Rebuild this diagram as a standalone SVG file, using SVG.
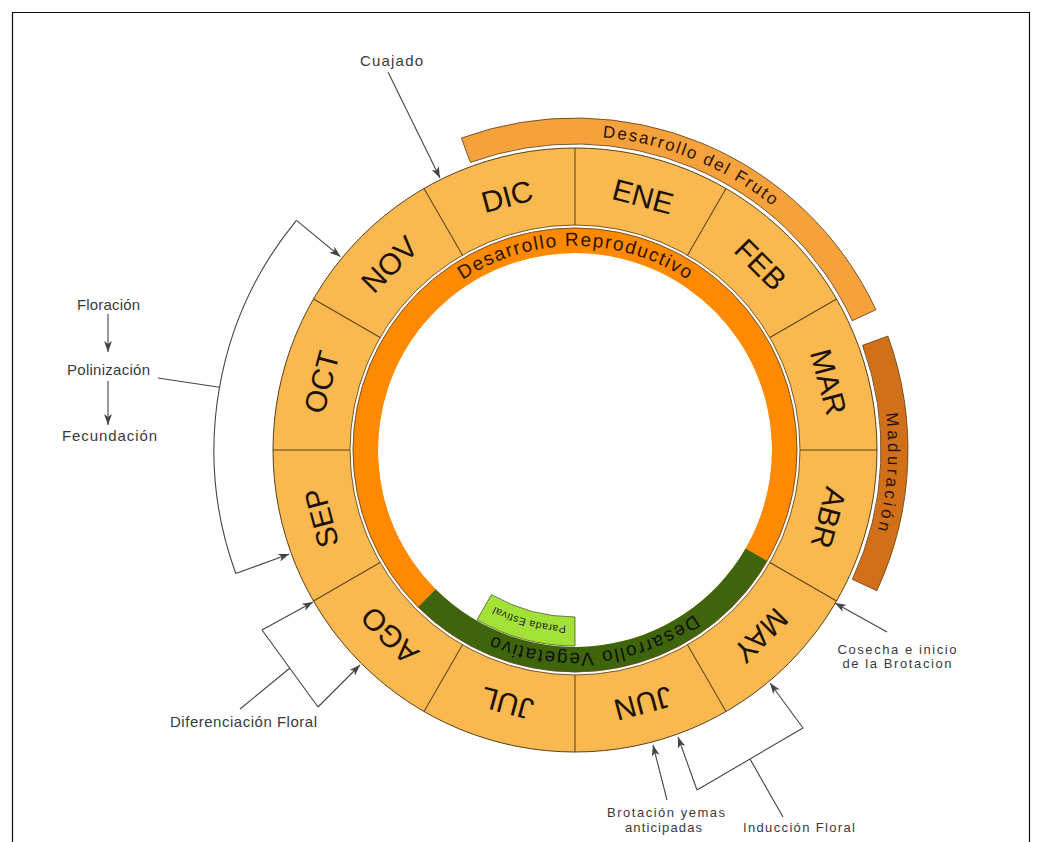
<svg xmlns="http://www.w3.org/2000/svg" width="1041" height="842" viewBox="0 0 1041 842">
<style>
.month{font-family:"Liberation Sans",Arial,sans-serif;font-size:30px;fill:#1e1206;text-anchor:middle}
.band{font-family:"Liberation Sans",Arial,sans-serif;fill:#2a1400;text-anchor:middle}
.lbl{font-family:"Liberation Sans",Arial,sans-serif;font-size:15px;fill:#3a3a3a;text-anchor:middle}
.sm{font-size:13px}
.sep{stroke:#5a3f1a;stroke-width:1}
.edge{fill:none;stroke:#6b4a1f;stroke-width:0.9}
.conn{fill:none;stroke:#444;stroke-width:1.1}
</style>
<defs>
<marker id="arr" markerUnits="userSpaceOnUse" markerWidth="11" markerHeight="8" refX="11" refY="4" orient="auto">
<path d="M0,0 L11,4 L0,8 L3,4 Z" fill="#444"/>
</marker>
<path id="pRepro" d="M371,450 A204,204 0 0 1 779,450"/>
<path id="pVeget" d="M777.88,428.68 A204,204 0 0 1 372.12,471.32"/>
<path id="pFruto" d="M283.87,332.37 A313,313 0 0 1 866.13,567.63"/>
<path id="pMadur" d="M596.9,137.76 A313,313 0 0 1 553.1,762.24"/>
<path id="pParada" d="M745,495.55 A175,175 0 0 1 405,404.45"/>
</defs>

<path d="M12.5,842 V12.5 H1029.5 V842" fill="none" stroke="#111" stroke-width="1.2"/>

<g id="ring">
<circle cx="575" cy="450" r="302" fill="#FAB950" stroke="#5a3f1a" stroke-width="1"/>
<circle cx="575" cy="450" r="197" fill="#fff"/>
</g>

<g id="desarrollo-reproductivo">
<path d="M418.02,606.98 A222,222 0 1 1 767.26,561 L745.61,548.5 A197,197 0 1 0 435.70,589.30 Z" fill="#FF8A00"/>
<text class="band" font-size="19"><textPath href="#pRepro" startOffset="50%" textLength="238" lengthAdjust="spacing">Desarrollo Reproductivo</textPath></text>
</g>

<g id="desarrollo-vegetativo">
<path d="M767.26,561 A222,222 0 0 1 418.02,606.98 L435.70,589.30 A197,197 0 0 0 745.61,548.5 Z" fill="#3E650C"/>
<text class="band" font-size="19" style="fill:#111"><textPath href="#pVeget" startOffset="50%" textLength="212" lengthAdjust="spacing">Desarrollo Vegetativo</textPath></text>
</g>

<g id="parada-estival">
<path d="M575,646 A196,196 0 0 1 477,619.74 L491.5,594.63 A167,167 0 0 0 575,617 Z" fill="#A2E236" stroke="#4a5a20" stroke-width="0.8"/>
<text class="band" font-size="10.5" style="fill:#222"><textPath href="#pParada" startOffset="50%" textLength="74" lengthAdjust="spacing">Parada Estival</textPath></text>
</g>

<g id="ring-lines">
<circle cx="575" cy="450" r="223.5" fill="none" stroke="#fff" stroke-width="2.6"/>
<circle cx="575" cy="450" r="222" class="edge"/>
<circle cx="575" cy="450" r="225" class="edge"/>
<line class="sep" x1="575" y1="225" x2="575" y2="148"/>
<line class="sep" x1="575" y1="225" x2="575" y2="148" transform="rotate(30 575 450)"/>
<line class="sep" x1="575" y1="225" x2="575" y2="148" transform="rotate(60 575 450)"/>
<line class="sep" x1="575" y1="225" x2="575" y2="148" transform="rotate(90 575 450)"/>
<line class="sep" x1="575" y1="225" x2="575" y2="148" transform="rotate(120 575 450)"/>
<line class="sep" x1="575" y1="225" x2="575" y2="148" transform="rotate(150 575 450)"/>
<line class="sep" x1="575" y1="225" x2="575" y2="148" transform="rotate(180 575 450)"/>
<line class="sep" x1="575" y1="225" x2="575" y2="148" transform="rotate(210 575 450)"/>
<line class="sep" x1="575" y1="225" x2="575" y2="148" transform="rotate(240 575 450)"/>
<line class="sep" x1="575" y1="225" x2="575" y2="148" transform="rotate(270 575 450)"/>
<line class="sep" x1="575" y1="225" x2="575" y2="148" transform="rotate(300 575 450)"/>
<line class="sep" x1="575" y1="225" x2="575" y2="148" transform="rotate(330 575 450)"/>
</g>

<g id="months">
<text class="month" x="575" y="198" transform="rotate(345 575 450)">DIC</text>
<text class="month" x="575" y="198" transform="rotate(15 575 450)">ENE</text>
<text class="month" x="575" y="198" transform="rotate(45 575 450)">FEB</text>
<text class="month" x="575" y="198" transform="rotate(75 575 450)">MAR</text>
<text class="month" x="575" y="198" transform="rotate(105 575 450)">ABR</text>
<text class="month" x="575" y="198" transform="rotate(135 575 450)">MAY</text>
<text class="month" x="575" y="198" transform="rotate(165 575 450)">JUN</text>
<text class="month" x="575" y="198" transform="rotate(195 575 450)">JUL</text>
<text class="month" x="575" y="198" transform="rotate(225 575 450)">AGO</text>
<text class="month" x="575" y="198" transform="rotate(255 575 450)">SEP</text>
<text class="month" x="575" y="198" transform="rotate(285 575 450)">OCT</text>
<text class="month" x="575" y="198" transform="rotate(315 575 450)">NOV</text>
</g>

<g id="desarrollo-fruto">
<path d="M461.45,138.02 A332,332 0 0 1 875.89,309.69 L852.33,320.68 A306,306 0 0 0 470.34,162.45 Z" fill="#F5A13C" stroke="#6b4a1f" stroke-width="0.9"/>
<text class="band" font-size="17"><textPath href="#pFruto" startOffset="50%" textLength="186" lengthAdjust="spacing">Desarrollo del Fruto</textPath></text>
</g>

<g id="maduracion">
<path d="M887.92,336.11 A333,333 0 0 1 876.80,590.73 L852.33,579.32 A306,306 0 0 0 862.55,345.34 Z" fill="#D2701A" stroke="#6b4a1f" stroke-width="0.9"/>
<text class="band" font-size="17"><textPath href="#pMadur" startOffset="50%" textLength="118" lengthAdjust="spacing">Maduración</textPath></text>
</g>

<g id="connectors">
<line class="conn" x1="388" y1="72" x2="440" y2="178" marker-end="url(#arr)"/>
<path class="conn" d="M235.77,573.47 A361,361 0 0 1 296.45,220.37"/>
<line class="conn" x1="296.45" y1="220.37" x2="340.43" y2="256.63" marker-end="url(#arr)"/>
<line class="conn" x1="235.77" y1="573.47" x2="289.33" y2="553.97" marker-end="url(#arr)"/>
<line class="conn" x1="158" y1="378" x2="219.48" y2="387.31"/>
<line class="conn" x1="108" y1="314" x2="108" y2="352" marker-end="url(#arr)"/>
<line class="conn" x1="108" y1="381" x2="108" y2="425" marker-end="url(#arr)"/>
<line class="conn" x1="262" y1="630" x2="318" y2="707"/>
<line class="conn" x1="262" y1="630" x2="313" y2="602" marker-end="url(#arr)"/>
<line class="conn" x1="318" y1="707" x2="360" y2="665" marker-end="url(#arr)"/>
<line class="conn" x1="240" y1="709" x2="290" y2="668"/>
<line class="conn" x1="887" y1="632" x2="835" y2="603" marker-end="url(#arr)"/>
<line class="conn" x1="667" y1="800" x2="653" y2="745" marker-end="url(#arr)"/>
<line class="conn" x1="697" y1="790" x2="803" y2="728"/>
<line class="conn" x1="697" y1="790" x2="678" y2="737" marker-end="url(#arr)"/>
<line class="conn" x1="803" y1="728" x2="770" y2="683" marker-end="url(#arr)"/>
<line class="conn" x1="783" y1="817" x2="750" y2="759"/>
</g>

<g id="labels">
<text class="lbl" x="391.5" y="66" textLength="63" lengthAdjust="spacing">Cuajado</text>
<text class="lbl" x="108.5" y="310" textLength="63" lengthAdjust="spacing">Floración</text>
<text class="lbl" x="108.5" y="375" textLength="83" lengthAdjust="spacing">Polinización</text>
<text class="lbl" x="109.5" y="441" textLength="95" lengthAdjust="spacing">Fecundación</text>
<text class="lbl" x="243.5" y="727" textLength="147" lengthAdjust="spacing">Diferenciación Floral</text>
<text class="lbl sm" x="897" y="654" textLength="119" lengthAdjust="spacing">Cosecha e inicio</text>
<text class="lbl sm" x="897" y="668" textLength="109" lengthAdjust="spacing">de la Brotacion</text>
<text class="lbl sm" x="666" y="817" textLength="118" lengthAdjust="spacing">Brotación yemas</text>
<text class="lbl sm" x="663.5" y="832" textLength="77" lengthAdjust="spacing">anticipadas</text>
<text class="lbl sm" x="799" y="832" textLength="112" lengthAdjust="spacing">Inducción Floral</text>
</g>
</svg>
